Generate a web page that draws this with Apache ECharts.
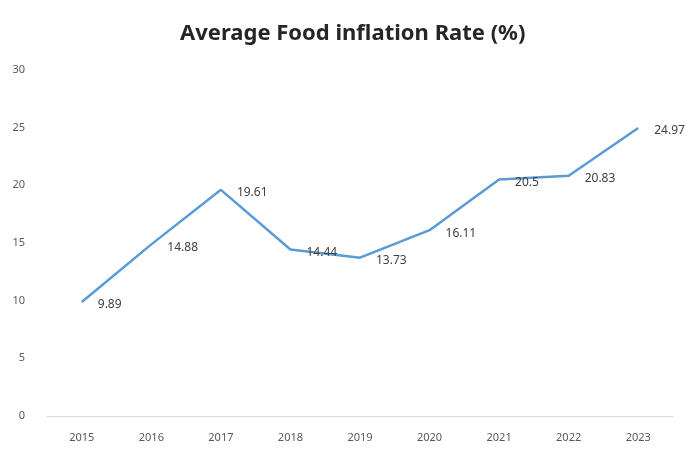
<!DOCTYPE html>
<html><head><meta charset="utf-8">
<script src="https://cdn.jsdelivr.net/npm/echarts@6/dist/echarts.min.js"></script>
<style>html,body{margin:0;padding:0;background:#fff}#c{width:692px;height:451px}</style>
</head><body><div id="c"></div>
<script>
const years = ['2015','2016','2017','2018','2019','2020','2021','2022','2023'];
const inflation = [9.89, 14.88, 19.61, 14.44, 13.73, 16.11, 20.5, 20.83, 24.97];
const yTicks = {min: 0, max: 30, interval: 5};

const chart = echarts.init(document.getElementById('c'));
chart.setOption({
  animation: false,
  title: {
    text: 'Average Food inflation Rate (%)',
    left: 175, top: 18,
    textStyle: {fontFamily: 'Noto Sans', fontWeight: 'bold', fontSize: 22, color: '#262626'}
  },
  grid: {left: 47, right: 19, top: 70, bottom: 35},
  xAxis: {
    type: 'category', data: years, boundaryGap: true,
    axisLine: {lineStyle: {color: '#d9d9d9', width: 1}},
    axisTick: {show: false},
    axisLabel: {color: '#595959', fontSize: 11, margin: 16, fontFamily: 'Noto Sans'}
  },
  yAxis: {
    type: 'value', min: yTicks.min, max: yTicks.max, interval: yTicks.interval,
    axisLine: {show: false}, axisTick: {show: false},
    splitLine: {show: false},
    axisLabel: {color: '#595959', fontSize: 11, margin: 22, fontFamily: 'Noto Sans'}
  },
  series: [{
    type: 'line', data: inflation, showSymbol: true, symbol: 'circle', symbolSize: 2,
    showAllSymbol: true,
    itemStyle: {color: 'rgba(0,0,0,0)', borderWidth: 0},
    lineStyle: {color: '#5b9bd5', width: 2.5},
    label: {show: true, position: 'right', distance: 15, offset: [0, 3],
      color: '#404040', fontSize: 12, fontFamily: 'Noto Sans'}
  }]
});
</script></body></html>
